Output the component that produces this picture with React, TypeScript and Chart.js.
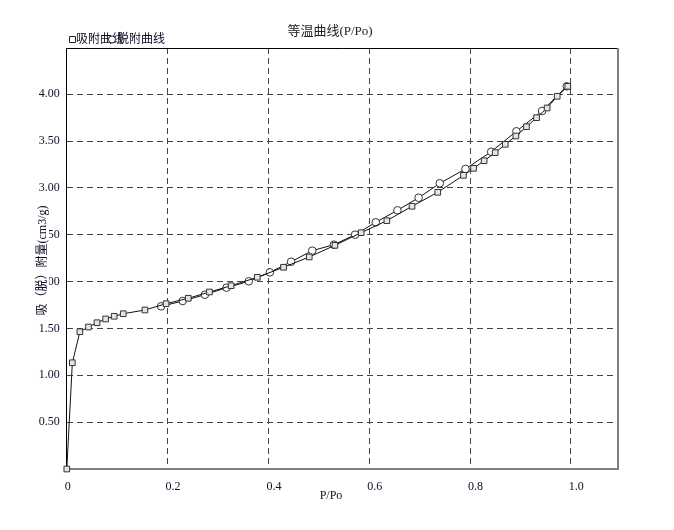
import React, { useEffect, useRef } from 'react';
import { Chart, registerables } from 'chart.js';

Chart.register(...registerables);

// ---- data ----
const chartTitle = '等温曲线(P/Po)';
const xAxisTitle = 'P/Po';
const yAxisTitle = '吸（脱）附量(cm3/g)';
const seriesNames = ['吸附曲线', '脱附曲线'];

const adsX = [0, 0.011, 0.026, 0.043, 0.060, 0.077, 0.094, 0.112, 0.155, 0.197, 0.241, 0.283, 0.326, 0.378, 0.430, 0.481, 0.532, 0.584, 0.635, 0.685, 0.736, 0.787, 0.807, 0.828, 0.850, 0.870, 0.891, 0.912, 0.932, 0.953, 0.973, 0.994];
const adsY = [0, 1.134, 1.465, 1.515, 1.561, 1.601, 1.630, 1.657, 1.697, 1.764, 1.822, 1.889, 1.956, 2.046, 2.153, 2.263, 2.387, 2.522, 2.650, 2.804, 2.953, 3.134, 3.209, 3.290, 3.376, 3.465, 3.554, 3.653, 3.749, 3.853, 3.978, 4.084];

const desX = [0.992, 0.943, 0.892, 0.842, 0.791, 0.740, 0.698, 0.656, 0.613, 0.572, 0.530, 0.487, 0.445, 0.403, 0.361, 0.317, 0.274, 0.230, 0.187];
const desY = [4.084, 3.821, 3.604, 3.386, 3.202, 3.049, 2.895, 2.761, 2.633, 2.501, 2.394, 2.330, 2.212, 2.099, 2.003, 1.935, 1.860, 1.793, 1.736];

const xTickValues = [0, 0.2, 0.4, 0.6, 0.8, 1.0];
const xTickLabels = ['0', '0.2', '0.4', '0.6', '0.8', '1.0'];
const yTickValues = [0.5, 1.0, 1.5, 2.0, 2.5, 3.0, 3.5, 4.0];
const yTickLabels = ['0.50', '1.00', '1.50', '2.00', '2.50', '3.00', '3.50', '4.00'];

const xMin = 0;
const xMax = 1.093;
const yMin = 0;
const yMax = 4.493;

// ---- styles ----
const FONT = "'Liberation Serif', 'Noto Sans CJK SC', serif";
const TEXT = '#0d0d26';

const decorPlugin = {
  id: 'decor',
  afterDraw(chart: any) {
    const { ctx, chartArea: a } = chart;
    ctx.save();
    // top border (black)
    ctx.strokeStyle = '#000';
    ctx.lineWidth = 1;
    ctx.beginPath();
    ctx.moveTo(a.left, Math.round(a.top) + 0.5);
    ctx.lineTo(a.right, Math.round(a.top) + 0.5);
    ctx.stroke();
    // right border (gray)
    ctx.strokeStyle = '#808080';
    ctx.lineWidth = 2;
    ctx.beginPath();
    ctx.moveTo(Math.round(a.right), a.top);
    ctx.lineTo(Math.round(a.right), a.bottom + 1);
    ctx.stroke();

    // chart title
    ctx.fillStyle = '#222';
    ctx.font = `13px ${FONT}`;
    ctx.textAlign = 'center';
    ctx.textBaseline = 'middle';
    ctx.fillText(chartTitle, 322, 24);

    // x axis title
    ctx.fillStyle = TEXT;
    ctx.font = `12px ${FONT}`;
    ctx.fillText(xAxisTitle, 323, 488);

    // y axis title (drawn over tick labels with a white backdrop)
    ctx.save();
    ctx.translate(35, (a.top + a.bottom) / 2 + 2);
    ctx.rotate(-Math.PI / 2);
    ctx.font = `12px ${FONT}`;
    const w = ctx.measureText(yAxisTitle).width;
    ctx.fillStyle = '#fff';
    ctx.fillRect(-w / 2, -6, w, 12);
    ctx.fillStyle = TEXT;
    ctx.fillText(yAxisTitle, 0, 0);
    ctx.restore();

    // legend
    ctx.font = `12px ${FONT}`;
    ctx.textAlign = 'left';
    ctx.textBaseline = 'middle';
    ctx.lineWidth = 1;
    // square marker
    ctx.fillStyle = '#fff';
    ctx.strokeStyle = '#222';
    ctx.beginPath();
    ctx.rect(61.5, 28.5, 6, 6);
    ctx.fill();
    ctx.stroke();
    ctx.fillStyle = TEXT;
    ctx.fillText(seriesNames[0], 68, 32);
    // circle marker
    ctx.fillStyle = '#fff';
    ctx.beginPath();
    ctx.arc(104, 31.5, 3.5, 0, Math.PI * 2);
    ctx.fill();
    ctx.stroke();
    ctx.fillStyle = TEXT;
    ctx.fillText(seriesNames[1], 109, 32);
    ctx.restore();
  },
};

export default function App() {
  const ref = useRef<HTMLCanvasElement>(null);

  useEffect(() => {
    const adsData = adsX.map((x, i) => ({ x, y: adsY[i] }));
    const desData = desX.map((x, i) => ({ x, y: desY[i] }));

    const chart = new Chart(ref.current as HTMLCanvasElement, {
      type: 'scatter',
      data: {
        datasets: [
          {
            label: seriesNames[0],
            data: adsData,
            showLine: true,
            borderColor: '#111',
            borderWidth: 1,
            pointStyle: 'rect',
            pointRadius: 4,
            pointBackgroundColor: '#e4e4e4',
            pointBorderColor: '#333',
            pointBorderWidth: 1,
            clip: false,
          },
          {
            label: seriesNames[1],
            data: desData,
            showLine: true,
            borderColor: '#111',
            borderWidth: 1,
            pointStyle: 'circle',
            pointRadius: 3.8,
            pointBackgroundColor: '#fff',
            pointBorderColor: '#333',
            pointBorderWidth: 1,
            clip: false,
          },
        ],
      },
      options: {
        responsive: false,
        animation: false,
        events: [],
        layout: { padding: { top: 40, left: 0, right: 48.3, bottom: 0 } },
        plugins: {
          legend: { display: false },
          title: { display: false },
          tooltip: { enabled: false },
        },
        scales: {
          x: {
            type: 'linear',
            min: xMin,
            max: xMax,
            afterBuildTicks: (scale: any) => {
              scale.ticks = xTickValues.map((v) => ({ value: v }));
            },
            afterFit: (scale: any) => {
              scale.height = 53;
            },
            ticks: {
              callback: (_v: any, i: number) => xTickLabels[i],
              font: { family: FONT, size: 12 },
              color: TEXT,
              padding: 11,
              align: 'start',
              labelOffset: -2,
              maxRotation: 0,
            },
            grid: {
              color: '#444',
              lineWidth: 1,
              drawTicks: false,
            },
            border: {
              display: true,
              color: '#808080',
              width: 2,
              dash: [6, 4],
            },
          },
          y: {
            type: 'linear',
            min: yMin,
            max: yMax,
            afterBuildTicks: (scale: any) => {
              scale.ticks = yTickValues.map((v) => ({ value: v }));
            },
            afterFit: (scale: any) => {
              scale.width = 58.8;
            },
            ticks: {
              callback: (_v: any, i: number) => yTickLabels[i],
              font: { family: FONT, size: 12 },
              color: TEXT,
              padding: 7,
            },
            grid: {
              color: '#444',
              lineWidth: 1,
              drawTicks: false,
            },
            border: {
              display: true,
              color: '#000',
              width: 1,
              dash: [6, 4],
            },
          },
        },
      },
      plugins: [decorPlugin],
    } as any);

    return () => chart.destroy();
  }, []);

  return (
    <div style={{ width: 658, height: 514 }}>
      <canvas ref={ref} width={658} height={514} style={{ display: 'block' }} />
    </div>
  );
}
